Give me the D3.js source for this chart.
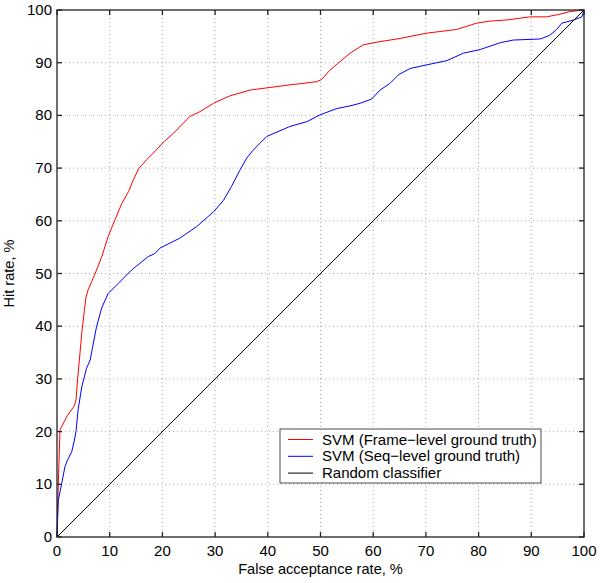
<!DOCTYPE html>
<html>
<head>
<meta charset="utf-8">
<script src="https://cdn.jsdelivr.net/npm/d3@7"></script>
<style>
body{margin:0;background:#fff;}
svg text{font-family:"Liberation Sans",Arial,Helvetica,sans-serif;fill:#000;}
.grid line{stroke:#aaa;stroke-dasharray:1,3;stroke-width:1;}
.tick-lab{font-size:15px;}
.ax-lab{font-size:14.6px;}
.leg text{font-size:15px;}
</style>
</head>
<body>
<div id="chart"></div>
<script>
// ROC curves: [false acceptance %, hit rate %]
const frameLevel=[[0,0],[0.3,12],[0.57,20.3],[0.9,21],[2.0,23.1],[3.3,24.9],[3.6,26],[3.9,29.8],[4.7,38.7],[5.2,43],[5.5,45.5],[5.9,46.9],
  [7.2,49.9],[8.5,53.2],[9.7,57],[11.0,60.2],[12.3,63.3],[13.6,65.6],[14.5,67.8],[15.5,69.9],[17.0,71.6],[18.6,73.2],[20.5,75.2],[22.1,76.6],
  [25.2,79.8],[27.1,80.7],[29.7,82.3],[32.8,83.7],[36.6,84.8],[40.4,85.3],[44.2,85.8],[46.1,86],[49.3,86.4],[50.2,86.8],[51.8,88.6],
  [53.7,90.2],[55.6,91.8],[58.1,93.4],[61.3,94.0],[65.1,94.6],[70.1,95.6],[75.8,96.3],[79.6,97.5],[82.2,97.9],[85.3,98.1],
  [89.8,98.7],[92.9,98.7],[95.4,99.2],[97.3,99.7],[100,100]];
const seqLevel=[[0,0],[0.25,7],[0.9,10.2],[1.5,13.3],[2.0,14.6],[2.8,16.2],[3.3,18.4],[3.6,20],[4.0,24.1],[4.7,28.5],[5.6,32],
  [6.3,33.6],[6.9,36.8],[7.5,39.9],[8.5,43.5],[9.7,46.2],[11.6,48.1],[14.2,50.7],[17.3,53.2],[18.6,53.8],[19.5,54.8],[23.3,56.7],
  [26.5,58.9],[29.7,61.7],[31.6,63.9],[33.1,66.5],[34.7,69.6],[36.0,71.9],[37.2,73.4],[39.8,76],[44.2,77.9],[47.4,78.8],[49.9,80.1],
  [53.1,81.3],[55.6,81.8],[57.5,82.3],[59.7,83.1],[61.3,84.8],[63.2,86.1],[64.8,87.7],[67.0,88.9],[70.2,89.6],[74,90.4],[77.1,91.8],
  [80.3,92.5],[84.1,93.8],[86.6,94.3],[91.7,94.5],[93.5,95.2],[94.8,96.3],[95.8,97.5],[98,98.1],[99.6,98.7],[100,100]];
const randomClf=[[0,0],[100,100]];
const ticks=d3.range(0,101,10);
const seriesNames=['SVM (Frame\u2212level ground truth)','SVM (Seq\u2212level ground truth)','Random classifier'];
const seriesColors=['#ff0000','#0000ff','#000000'];

const margin={top:10,right:16,bottom:46,left:57},
      W=600-margin.left-margin.right,
      H=583-margin.top-margin.bottom;

const svg=d3.select('#chart').append('svg').attr('width',600).attr('height',583);
const g=svg.append('g').attr('transform',`translate(${margin.left},${margin.top})`);

const x=d3.scaleLinear().domain([0,100]).range([0,W]),
      y=d3.scaleLinear().domain([0,100]).range([H,0]);

// dotted grid
const grid=g.append('g').attr('class','grid');
grid.selectAll('.gx').data(ticks.slice(1,-1)).enter().append('line')
  .attr('x1',d=>x(d)).attr('x2',d=>x(d)).attr('y1',0).attr('y2',H);
grid.selectAll('.gy').data(ticks.slice(1,-1)).enter().append('line')
  .attr('y1',d=>y(d)).attr('y2',d=>y(d)).attr('x1',0).attr('x2',W);

// curves
const line=d3.line().x(d=>x(d[0])).y(d=>y(d[1]));
[frameLevel,seqLevel,randomClf].forEach((s,i)=>{
  g.append('path').datum(s).attr('d',line)
    .attr('fill','none').attr('stroke',seriesColors[i]).attr('stroke-width',1);
});

// box and inner ticks (matlab style)
const tk=5;
const axG=g.append('g').attr('stroke','#222').attr('stroke-width',1.3);
axG.append('rect').attr('width',W).attr('height',H).attr('fill','none');
ticks.forEach(t=>{
  axG.append('line').attr('x1',x(t)).attr('x2',x(t)).attr('y1',H).attr('y2',H-tk);
  axG.append('line').attr('x1',x(t)).attr('x2',x(t)).attr('y1',0).attr('y2',tk);
  axG.append('line').attr('y1',y(t)).attr('y2',y(t)).attr('x1',0).attr('x2',tk);
  axG.append('line').attr('y1',y(t)).attr('y2',y(t)).attr('x1',W).attr('x2',W-tk);
});

g.selectAll('.xl').data(ticks).enter().append('text').attr('class','tick-lab')
  .attr('x',d=>x(d)).attr('y',H+19).attr('text-anchor','middle').text(d=>d);
g.selectAll('.yl').data(ticks).enter().append('text').attr('class','tick-lab')
  .attr('x',-5).attr('y',d=>y(d)+5).attr('text-anchor','end').text(d=>d);

g.append('text').attr('class','ax-lab').attr('x',W/2).attr('y',H+37)
  .attr('text-anchor','middle').text('False acceptance rate, %');
g.append('text').attr('class','ax-lab')
  .attr('transform',`translate(${-43},${H/2}) rotate(-90)`)
  .attr('text-anchor','middle').text('Hit rate, %');

// legend
const leg=g.append('g').attr('class','leg').attr('transform',`translate(${280-margin.left},${429-margin.top})`);
leg.append('rect').attr('width',261).attr('height',54).attr('fill','#fff').attr('stroke','#222').attr('stroke-width',0.8);
seriesNames.forEach((n,i)=>{
  const yy=10.5+i*16.8;
  leg.append('line').attr('x1',8).attr('x2',33).attr('y1',yy).attr('y2',yy).attr('stroke',seriesColors[i]).attr('stroke-width',1);
  leg.append('text').attr('x',42).attr('y',yy+5).text(n);
});
</script>
</body>
</html>
